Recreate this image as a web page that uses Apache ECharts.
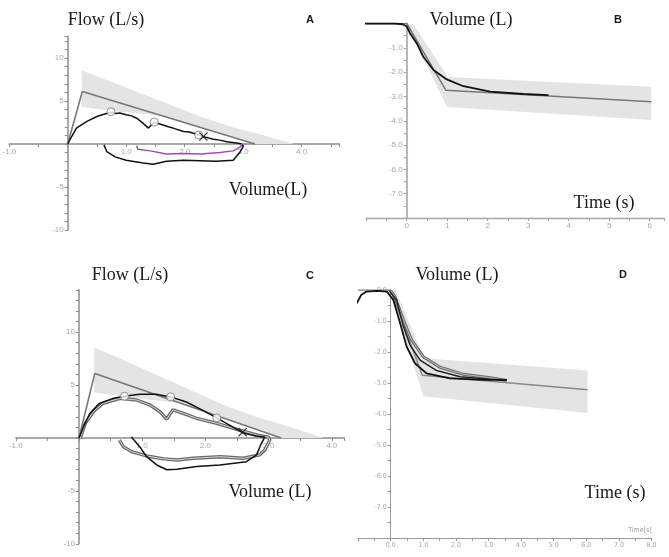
<!DOCTYPE html>
<html>
<head>
<meta charset="utf-8">
<script src="https://cdn.jsdelivr.net/npm/echarts@6/dist/echarts.min.js"></script>
<style>
  html, body { margin: 0; padding: 0; background: #fff; }
  #chart { width: 669px; height: 557px; }
</style>
</head>
<body>
<div id="chart"></div>
<script>
// ---- data ----
// flow-volume: predicted line and normal band (panels A and C)
var predFV = [[0, 0], [0.25, 6.1], [3.2, 0]];
var bandFV = [[0.24, 8.55], [0.65, 7.5], [1.4, 5.5], [2.3, 3.1], [2.8, 2.0], [3.25, 1.2], [3.87, 0],
              [3.2, 0], [1.6, 3.31], [0.9, 3.75], [0.24, 4.3]];

// panel A patient loop
var loopA = [[0, 0], [0.07, 0.9], [0.15, 1.85], [0.32, 2.6], [0.5, 3.2], [0.62, 3.45], [0.74, 3.7], [0.82, 3.55],
             [0.89, 3.6], [1.0, 3.4], [1.08, 3.3], [1.18, 3.0], [1.29, 2.4], [1.38, 1.85], [1.43, 2.2], [1.48, 2.5],
             [1.56, 2.35], [1.63, 2.2], [1.72, 2.0], [1.8, 1.85], [1.98, 1.45], [2.08, 1.4], [2.15, 1.25], [2.24, 1.05],
             [2.32, 0.86], [2.49, 0.55], [2.6, 0.45], [2.72, 0.27], [2.92, 0.08], [2.97, 0], [3.0, -0.3], [2.95, -0.9],
             [2.83, -1.9], [2.54, -2.0], [1.98, -1.9], [1.69, -2.0], [1.46, -2.35], [1.29, -2.2], [1.0, -1.9],
             [0.81, -1.5], [0.67, -0.9], [0.62, -0.1]];
var inspA = [[1.18, -0.2], [1.2, -0.6], [1.41, -0.8], [1.69, -1.17], [1.98, -1.1], [2.27, -1.17], [2.6, -1.0],
             [2.83, -0.8], [2.96, -0.3], [2.97, 0]];
var dotsA = [[0.74, 3.75], [1.48, 2.55], [2.24, 1.05]];
var crossA = [[2.32, 0.86]];

// panel C patient loops
var loopC1 = [[0, 0], [0.07, 1.04], [0.17, 2.3], [0.32, 3.25], [0.53, 3.72], [0.72, 3.94], [0.96, 4.13], [1.22, 4.13],
              [1.45, 3.88], [1.7, 3.4], [1.96, 2.6], [2.18, 1.9], [2.43, 1.05], [2.59, 0.5], [2.8, 0.19], [2.94, 0.1],
              [2.95, 0], [2.88, -0.6], [2.81, -1.6], [2.65, -2.24], [2.23, -2.55], [1.86, -2.7], [1.55, -2.96],
              [1.39, -3.0], [1.23, -2.55], [1.07, -1.77], [0.96, -0.82], [0.86, -0.13], [0.83, 0.1]];
var loopC2 = [[0.02, 0], [0.1, 1.39], [0.23, 2.5], [0.38, 3.28], [0.65, 3.75], [0.91, 3.59], [1.12, 3.12], [1.28, 2.48],
              [1.39, 1.77], [1.44, 2.27], [1.49, 2.65], [1.65, 2.33], [1.86, 1.86], [2.18, 1.39], [2.5, 0.82],
              [2.81, 0.28], [3.0, 0.07], [3.02, -0.19], [2.94, -1.13], [2.86, -1.6], [2.6, -1.92], [2.23, -1.77],
              [1.81, -1.92], [1.55, -2.08], [1.34, -1.98], [1.07, -1.7], [0.83, -1.29], [0.7, -0.82], [0.64, -0.19]];
var dotsC = [[0.72, 3.94], [1.45, 3.88], [2.18, 1.9]];
var crossC = [[2.59, 0.55]];

// volume-time: predicted line and normal band (panels B and D)
var predVT = [[-1, 0], [0, 0], [0.97, -2.75], [6.04, -3.22]];
var bandVT = [[0.15, 0], [1.02, -2.2], [6.04, -2.6], [6.04, -3.97], [1.0, -3.43], [0, -0.05]];

// panel B patient
var volB = [[-1.03, 0], [-0.3, 0], [-0.1, -0.03], [0.0, -0.12], [0.08, -0.4], [0.25, -0.82], [0.41, -1.37],
            [0.66, -1.91], [0.99, -2.3], [1.4, -2.58], [2.06, -2.8], [2.88, -2.9], [3.5, -2.95]];

// panel D patient (three trials)
var volD1 = [[-1.04, -0.43], [-0.9, -0.15], [-0.74, -0.05], [-0.4, -0.03], [-0.12, -0.05], [0.08, -0.32],
             [0.29, -1.07], [0.49, -1.83], [0.75, -2.37], [1.1, -2.69], [1.82, -2.85], [2.84, -2.9], [3.56, -2.9]];
var volD2 = [[-0.05, -0.02], [0.18, -0.32], [0.39, -1.18], [0.59, -1.77], [0.9, -2.26], [1.41, -2.6], [2.13, -2.8],
             [3.05, -2.88], [3.56, -2.9]];
var volD3 = [[0.0, -0.02], [0.13, -0.22], [0.39, -0.97], [0.64, -1.61], [1.0, -2.15], [1.51, -2.49], [2.23, -2.72],
             [3.05, -2.83], [3.56, -2.92]];

// axis ranges per panel [xmin, xmax, ymin, ymax]
var rangeA = [-1, 4.65, -10, 12.5];
var rangeB = [-1, 6.35, -8, 0];
var rangeC = [-1, 4.2, -10, 14];
var rangeD = [-1, 8, -8, 0];

// ---- helpers ----
var serif = '"Liberation Serif", "DejaVu Serif", serif'
var sans = '"Liberation Sans", Arial, sans-serif'
var narrow = '"Liberation Sans Narrow", "DejaVu Sans Condensed", "Liberation Sans", sans-serif'

var grids = [
    { left: 9.2, top: 36.5, width: 330.5, height: 193.5 },   // A
    { left: 366.2, top: 23.5, width: 297.7, height: 194.5 }, // B
    { left: 15.8, top: 289.8, width: 328.6, height: 254 },   // C
    { left: 358.1, top: 290, width: 293.4, height: 248 }     // D
]
grids.forEach(function(g) { g.outerBoundsMode = 'none' })

function isInt(v) { return Math.abs(v - Math.round(v)) < 1e-6 }

// shift so the axis crosses the other one at zero
function zeroShift(lo, hi, size) { return -(0 - lo) / (hi - lo) * size }

function band(idx, pts) {
    return {
        type: 'custom', xAxisIndex: idx, yAxisIndex: idx, z: 1, silent: true,
        data: pts,
        renderItem: function(params, api) {
            if (params.dataIndex !== 0) return
            return {
                type: 'polygon',
                shape: { points: pts.map(function(p) { return api.coord(p) }) },
                style: { fill: '#e4e4e4' }
            }
        }
    }
}

function line(idx, pts, color, width, z) {
    return {
        type: 'line', xAxisIndex: idx, yAxisIndex: idx, data: pts, z: z || 3,
        showSymbol: false, symbol: 'none', silent: true,
        lineStyle: { color: color, width: width }
    }
}

function dots(idx, pts) {
    return {
        type: 'scatter', xAxisIndex: idx, yAxisIndex: idx, data: pts, z: 6,
        symbol: 'circle', symbolSize: 8,
        itemStyle: { color: '#fff', borderColor: '#777', borderWidth: 1 }
    }
}

function cross(idx, pts) {
    return {
        type: 'scatter', xAxisIndex: idx, yAxisIndex: idx, data: pts, z: 7,
        symbol: 'path://M0,1L1,0L5,4L9,0L10,1L6,5L10,9L9,10L5,6L1,10L0,9L4,5Z', symbolSize: 9,
        itemStyle: { color: '#111' }
    }
}

function axis(idx, dim, min, max, interval, fmt, opt) {
    opt = opt || {}
    return {
        type: 'value', gridIndex: idx, min: min, max: max, interval: interval,
        position: dim === 'x' ? 'bottom' : 'left',
        offset: opt.offset || 0,
        axisLine: { onZero: false, lineStyle: { color: opt.color || '#8c8c8c', width: opt.width || 1.5 } },
        axisTick: { show: true, length: 3, lineStyle: { color: opt.color || '#8c8c8c', width: 1 } },
        axisLabel: {
            formatter: fmt, color: '#a8a8a8', fontSize: opt.fontSize || 8,
            fontFamily: opt.font || sans, margin: 4
        },
        splitLine: { show: false }
    }
}

function txt(x, y, s, size, font, weight) {
    return {
        type: 'text', x: x, y: y, silent: true,
        style: {
            text: s, fill: '#1a1a1a', font: (weight || 'normal') + ' ' + size + 'px ' + font,
            textAlign: 'center', textVerticalAlign: 'middle'
        }
    }
}

// ---- chart ----
var fmtFV_x = function(v) { return isInt(v) && v !== 0 ? v.toFixed(1) : '' }
var fmtFV_y = function(v) { return isInt(v) && Math.round(v) % 5 === 0 && v !== 0 ? String(Math.round(v)) : '' }
var fmtB_x = function(v) { return isInt(v) && v >= 0 ? String(Math.round(v)) : '' }
var fmtB_y = function(v) { return isInt(v) && v < 0 && v > -8 ? v.toFixed(1) : '' }
var fmtD_x = function(v) { return isInt(v) && v >= 0 ? v.toFixed(1) : '' }
var fmtD_y = function(v) { return isInt(v) && v > -8 ? v.toFixed(1) : '' }

var styB = { color: '#9ea6b4', width: 1.3 }
var styD = { color: '#9a9a9a', width: 1, fontSize: 7, font: narrow }

var option = {
    animation: false,
    backgroundColor: '#fff',
    grid: grids,
    xAxis: [
        axis(0, 'x', rangeA[0], rangeA[1], 0.5, fmtFV_x, { offset: zeroShift(rangeA[2], rangeA[3], grids[0].height) }),
        axis(1, 'x', rangeB[0], rangeB[1], 0.5, fmtB_x, styB),
        axis(2, 'x', rangeC[0], rangeC[1], 0.5, fmtFV_x, { offset: zeroShift(rangeC[2], rangeC[3], grids[2].height) }),
        axis(3, 'x', rangeD[0], rangeD[1], 0.5, fmtD_x, styD)
    ],
    yAxis: [
        axis(0, 'y', rangeA[2], rangeA[3], 1, fmtFV_y, { offset: zeroShift(rangeA[0], rangeA[1], grids[0].width) }),
        axis(1, 'y', rangeB[2], rangeB[3], 0.5, fmtB_y,
             Object.assign({}, styB, { width: 1.6, offset: zeroShift(rangeB[0], rangeB[1], grids[1].width) })),
        axis(2, 'y', rangeC[2], rangeC[3], 1, fmtFV_y, { offset: zeroShift(rangeC[0], rangeC[1], grids[2].width) }),
        axis(3, 'y', rangeD[2], rangeD[3], 0.5, fmtD_y,
             Object.assign({}, styD, { offset: zeroShift(rangeD[0], rangeD[1], grids[3].width) }))
    ],
    series: [
        // A
        band(0, bandFV),
        line(0, predFV, '#777', 1.6),
        line(0, loopA, '#111', 1.5, 4),
        line(0, inspA, '#a04cb4', 1.5, 4),
        dots(0, dotsA),
        cross(0, crossA),
        // B
        band(1, bandVT),
        line(1, predVT, '#777', 1.5),
        line(1, volB, '#111', 1.8, 4),
        // C
        band(2, bandFV),
        line(2, predFV, '#777', 1.6),
        line(2, loopC2, '#6a6a6a', 3.4, 4),
        line(2, loopC2, '#d6d6d6', 1, 4),
        line(2, loopC1, '#111', 1.5, 5),
        dots(2, dotsC),
        cross(2, crossC),
        // D
        band(3, bandVT),
        line(3, predVT, '#888', 1.5),
        line(3, volD3, '#6a6a6a', 3, 4),
        line(3, volD3, '#d0d0d0', 0.8, 4),
        line(3, volD2, '#222', 1.5, 5),
        line(3, volD1, '#111', 1.8, 5)
    ],
    graphic: [
        txt(106, 20, 'Flow (L/s)', 18, serif),
        txt(310, 20, 'A', 11, sans, 'bold'),
        txt(268, 190, 'Volume(L)', 18, serif),
        txt(471, 20, 'Volume (L)', 18, serif),
        txt(618, 20, 'B', 11, sans, 'bold'),
        txt(604, 203, 'Time (s)', 18, serif),
        txt(130, 275, 'Flow (L/s)', 18, serif),
        txt(310, 276, 'C', 11, sans, 'bold'),
        txt(270, 492, 'Volume (L)', 18, serif),
        txt(457, 275, 'Volume (L)', 18, serif),
        txt(623, 275, 'D', 11, sans, 'bold'),
        txt(615, 493, 'Time (s)', 18, serif),
        { type: 'text', x: 640, y: 530, silent: true,
          style: { text: 'Time[s]', fill: '#9a9a9a', font: '7px ' + narrow, textAlign: 'center', textVerticalAlign: 'middle' } }
    ]
}

var chart = echarts.init(document.getElementById('chart'))
chart.setOption(option)
</script>
</body>
</html>
